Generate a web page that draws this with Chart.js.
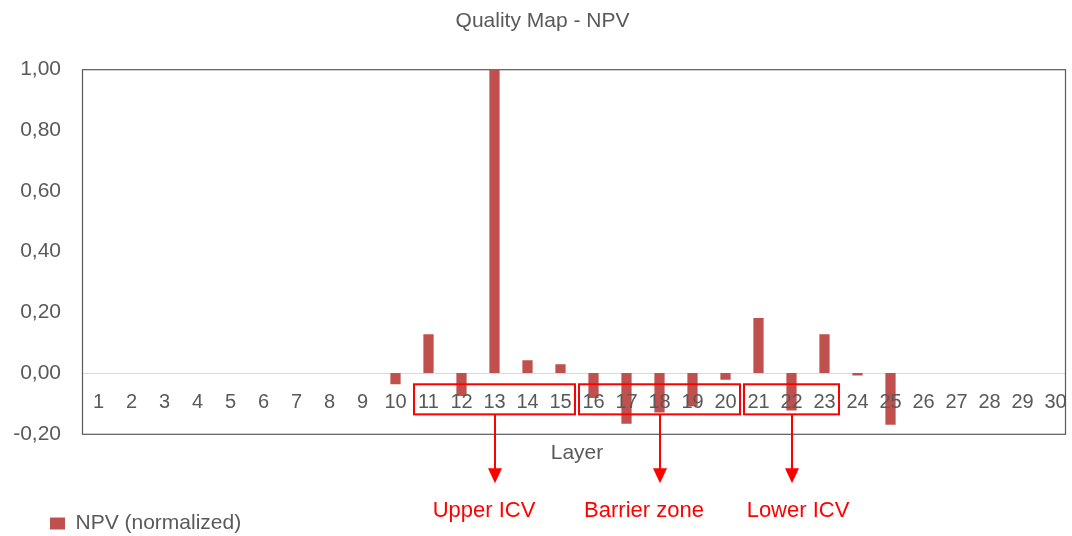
<!DOCTYPE html>
<html>
<head>
<meta charset="utf-8">
<title>Quality Map - NPV</title>
<script src="https://cdn.jsdelivr.net/npm/chart.js@4.4.1/dist/chart.umd.min.js"></script>
<style>
  html, body { margin: 0; padding: 0; background: #fff; }
  #wrap { position: relative; width: 1072px; height: 536px; }
</style>
</head>
<body>
<div id="wrap"><canvas id="npvChart"></canvas></div>
<script>
const layers = ["1", "2", "3", "4", "5", "6", "7", "8", "9", "10",
  "11", "12", "13", "14", "15", "16", "17", "18", "19", "20",
  "21", "22", "23", "24", "25", "26", "27", "28", "29", "30"];

const npv = [0, 0, 0, 0, 0, 0, 0, 0, 0, -0.037,
  0.128, -0.076, 1.0, 0.042, 0.029, -0.082, -0.167, -0.13, -0.109, -0.022,
  0.181, -0.123, 0.128, -0.008, -0.17, 0, 0, 0, 0, 0];

// zones marked on the chart (first / last layer of each)
const zoneNames = ["Upper ICV", "Barrier zone", "Lower ICV"];
const zoneFirst = ["11", "16", "21"];
const zoneLast = ["15", "20", "23"];

const FONT = "'Liberation Sans', Arial, sans-serif";
const GREY = "#595959";
Chart.defaults.font.family = FONT;
Chart.defaults.color = GREY;

const FRAME_INSET = 7; // plot frame stops a little short of the last category

const zonesPlugin = {
  id: "zones",
  beforeDatasetsDraw(chart) {
    // plot frame + zero line
    const { ctx, chartArea: a } = chart;
    const zeroY = Math.round(chart.scales.y.getPixelForValue(0)) + 0.5;
    ctx.save();
    ctx.strokeStyle = "#d9d9d9";
    ctx.lineWidth = 1;
    ctx.beginPath();
    ctx.moveTo(a.left, zeroY);
    ctx.lineTo(a.right - FRAME_INSET, zeroY);
    ctx.stroke();
    ctx.strokeStyle = GREY;
    ctx.lineWidth = 1.2;
    ctx.strokeRect(a.left + 0.5, a.top + 0.5, a.right - a.left - FRAME_INSET, a.bottom - a.top);
    ctx.restore();
  },
  afterDraw(chart) {
    const { ctx } = chart;
    const x = chart.scales.x;
    const y = chart.scales.y;
    const half = (x.getPixelForValue(1) - x.getPixelForValue(0)) / 2;
    const top = y.getPixelForValue(-0.037);
    const bottom = y.getPixelForValue(-0.136);
    const labelShift = [-11, -16, 6];

    ctx.save();
    ctx.strokeStyle = "#ff0000";
    ctx.fillStyle = "#ff0000";
    ctx.lineWidth = 2;
    ctx.font = "22px " + FONT;
    ctx.textAlign = "center";
    ctx.textBaseline = "middle";
    zoneNames.forEach((name, i) => {
      const l = x.getPixelForValue(layers.indexOf(zoneFirst[i])) - half + 2;
      const r = x.getPixelForValue(layers.indexOf(zoneLast[i])) + half - 2;
      ctx.strokeRect(l, top, r - l, bottom - top);

      const cx = Math.round((l + r) / 2);
      const tip = bottom + 69;
      ctx.beginPath();
      ctx.moveTo(cx, bottom);
      ctx.lineTo(cx, tip - 14);
      ctx.stroke();
      ctx.beginPath();
      ctx.moveTo(cx - 7, tip - 15);
      ctx.lineTo(cx + 7, tip - 15);
      ctx.lineTo(cx, tip);
      ctx.closePath();
      ctx.fill();

      ctx.fillText(name, cx + labelShift[i], tip + 28);
    });
    ctx.restore();
  }
};

new Chart(document.getElementById("npvChart"), {
  type: "bar",
  data: {
    labels: layers,
    datasets: [{
      label: "NPV (normalized)",
      data: npv,
      backgroundColor: "#c0504d",
      categoryPercentage: 1,
      barPercentage: 0.31,
    }],
  },
  options: {
    responsive: true,
    maintainAspectRatio: false,
    animation: false,
    layout: { padding: { left: 13, right: 0, top: 0, bottom: -8 } },
    plugins: {
      title: {
        display: true,
        text: "Quality Map - NPV",
        color: GREY,
        font: { size: 21, weight: "normal" },
        padding: { top: 9, bottom: 35 },
      },
      legend: {
        position: "bottom",
        align: "start",
        labels: {
          boxWidth: 15,
          boxHeight: 12,
          padding: 37,
          color: GREY,
          font: { size: 21 },
        },
      },
      tooltip: { enabled: false },
    },
    scales: {
      x: {
        axis: "x",
        position: { y: 0 },
        grid: { color: "rgba(0,0,0,0)", tickLength: 14 },
        border: { display: false },
        ticks: { z: 1, padding: 3, color: GREY, font: { size: 20 }, maxRotation: 0, autoSkip: false },
      },
      xTitle: {
        axis: "x",
        type: "category",
        position: "bottom",
        grid: { display: false, drawTicks: false },
        border: { display: false },
        ticks: { display: false },
        title: {
          display: true,
          text: "Layer",
          color: GREY,
          font: { size: 21 },
          padding: { top: 6.6, bottom: 10.4 },
        },
      },
      y: {
        min: -0.2,
        max: 1,
        afterFit: (scale) => { scale.width = 69; },
        grid: { display: false, drawTicks: false },
        border: { display: false },
        ticks: {
          stepSize: 0.2,
          padding: 21,
          color: GREY,
          font: { size: 21 },
          callback: (v) => (Math.abs(v) < 1e-9 ? 0 : v).toFixed(2).replace(".", ","),
        },
      },
    },
  },
  plugins: [zonesPlugin],
});
</script>
</body>
</html>
